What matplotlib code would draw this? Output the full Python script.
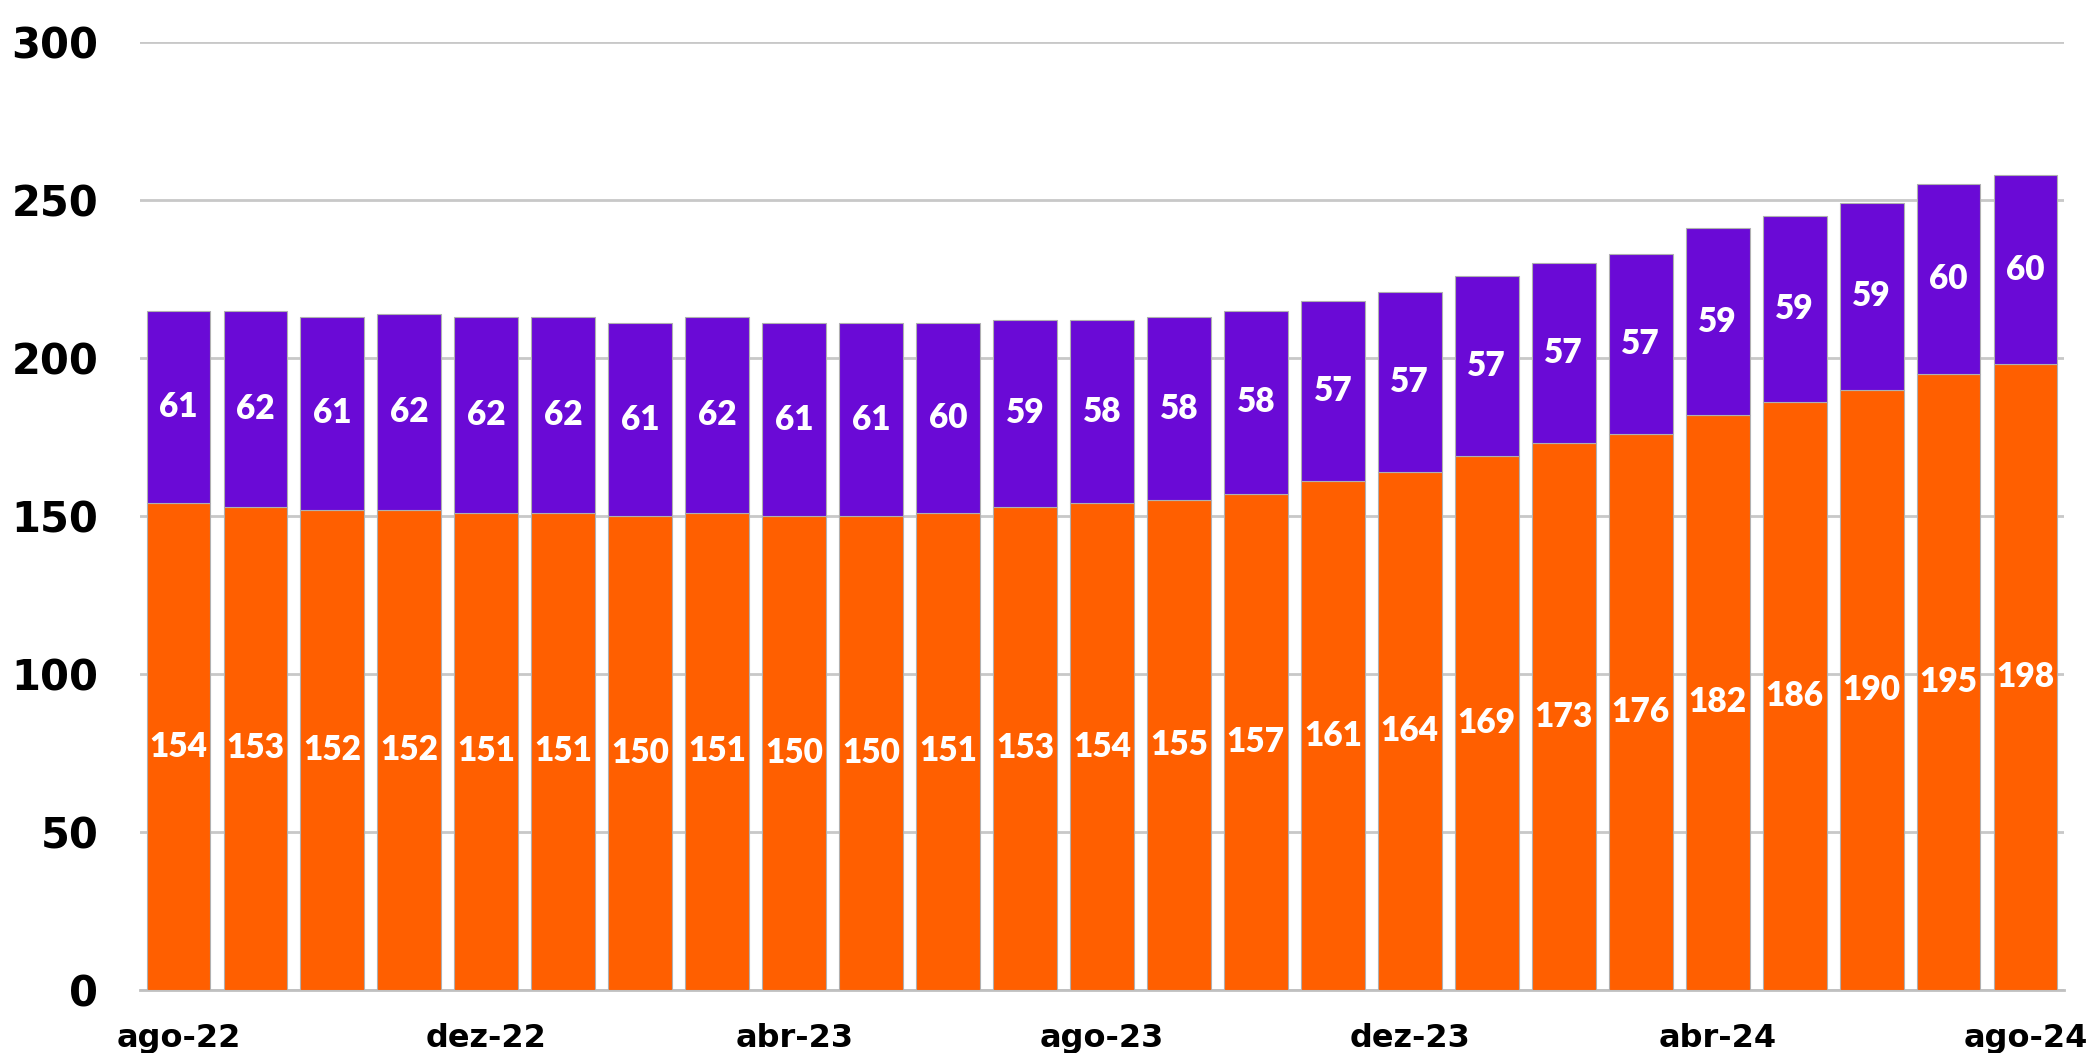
import matplotlib
matplotlib.use("Agg")
import matplotlib.pyplot as plt
import numpy as np

months = ["ago-22", "set-22", "out-22", "nov-22", "dez-22", "jan-23", "fev-23", "mar-23",
          "abr-23", "mai-23", "jun-23", "jul-23", "ago-23", "set-23", "out-23", "nov-23",
          "dez-23", "jan-24", "fev-24", "mar-24", "abr-24", "mai-24", "jun-24", "jul-24", "ago-24"]
orange_vals = [154, 153, 152, 152, 151, 151, 150, 151, 150, 150, 151, 153, 154, 155, 157,
               161, 164, 169, 173, 176, 182, 186, 190, 195, 198]
purple_vals = [61, 62, 61, 62, 62, 62, 61, 62, 61, 61, 60, 59, 58, 58, 58,
               57, 57, 57, 57, 57, 59, 59, 59, 60, 60]
y_ticks = [0, 50, 100, 150, 200, 250, 300]

ORANGE = "#FF5F00"
PURPLE = "#6A0AD6"

fig = plt.figure(figsize=(20.94, 10.53), dpi=100)
ax = fig.add_axes([140 / 2094, 1 - 990 / 1053, (2064 - 140) / 2094, (990 - 42) / 1053])

x = np.arange(len(months))
w = 0.83
ax.bar(x, orange_vals, width=w, color=ORANGE, edgecolor="#b0b0b0", linewidth=0.8, zorder=3)
ax.bar(x, purple_vals, width=w, bottom=orange_vals, color=PURPLE, edgecolor="#b0b0b0",
       linewidth=0.8, zorder=3)

lab_font = dict(family=["Lato", "DejaVu Sans"], weight="heavy", fontsize=24, color="white",
                ha="center", va="center", zorder=4)
for xi, o, p in zip(x, orange_vals, purple_vals):
    ax.text(xi, o / 2, str(o), **lab_font)
    ax.text(xi, o + p / 2, str(p), **lab_font)

ax.set_xlim(-0.5, len(months) - 0.5)
ax.set_ylim(0, 300)
ax.set_yticks(y_ticks)
ax.set_yticklabels([str(v) for v in y_ticks], fontsize=30, fontweight="bold",
                   family="DejaVu Sans")
tick_idx = list(range(0, len(months), 4))
ax.set_xticks(tick_idx)
ax.set_xticklabels([months[i] for i in tick_idx], fontsize=23, fontweight="bold",
                   family="DejaVu Sans")
ax.tick_params(axis="y", length=0, pad=30)
ax.tick_params(axis="x", length=0, pad=24)

ax.grid(axis="y", color="#c8c8c8", linewidth=2, zorder=0)
ax.set_axisbelow(True)
for s in ["top", "right", "left"]:
    ax.spines[s].set_visible(False)
ax.spines["bottom"].set_color("#c0c0c0")
ax.spines["bottom"].set_linewidth(2)
ax.spines["bottom"].set_zorder(2)

fig.savefig("out.png", dpi=100, facecolor="white")
